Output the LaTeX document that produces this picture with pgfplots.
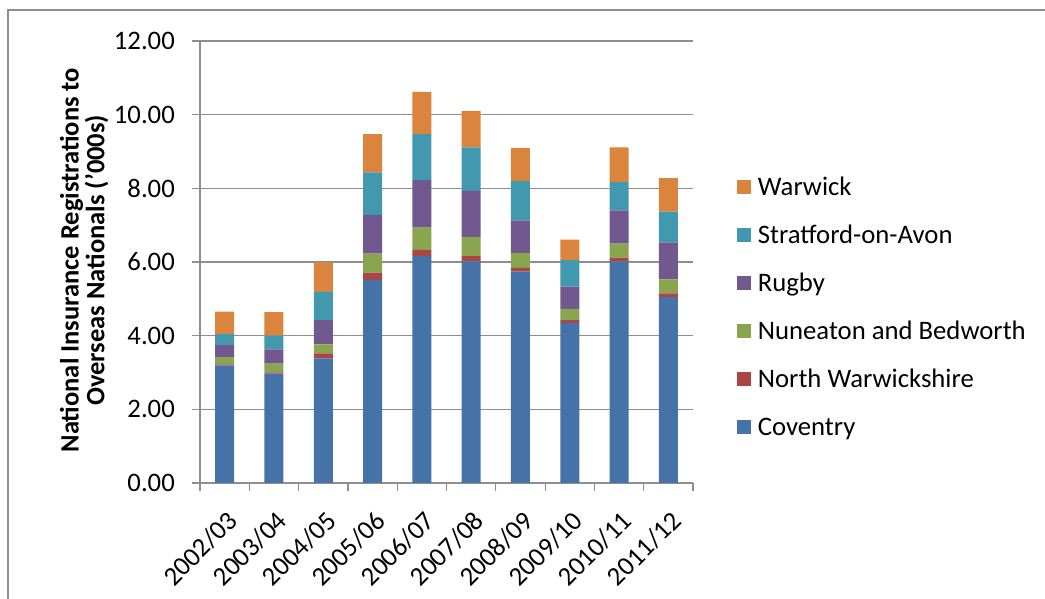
\documentclass[border=0pt]{standalone}
\usepackage{pgfplots}
\usepackage{pgfplotstable}
\pgfplotsset{compat=1.18}
\usepackage{fontspec}
\setmainfont{Carlito}
\definecolor{cCov}{RGB}{69,114,167}
\definecolor{cNW}{RGB}{170,70,67}
\definecolor{cNun}{RGB}{137,165,78}
\definecolor{cRug}{RGB}{113,88,143}
\definecolor{cStr}{RGB}{65,152,175}
\definecolor{cWar}{RGB}{219,132,61}
\definecolor{gridc}{RGB}{142,142,142}
\pgfplotstableread{
x cov nw nun rug str war
0 3.19 0.03 0.20 0.32 0.30 0.61
1 2.97 0.03 0.24 0.39 0.37 0.64
2 3.38 0.14 0.24 0.66 0.77 0.80
3 5.51 0.20 0.52 1.05 1.15 1.04
4 6.16 0.17 0.60 1.29 1.25 1.15
5 6.02 0.14 0.52 1.25 1.18 0.99
6 5.74 0.10 0.41 0.88 1.07 0.90
7 4.35 0.07 0.31 0.60 0.72 0.56
8 6.02 0.10 0.38 0.90 0.77 0.94
9 5.05 0.10 0.38 1.00 0.84 0.91
}\data
\pgfplotsset{sqlegend/.style={legend image code/.code={\fill[##1] (0bp,-7bp) rectangle (14bp,7bp);}}}
\begin{document}
\begin{tikzpicture}[x=1bp,y=1bp]
\useasboundingbox (0,0) rectangle (1045,599);
\draw[gridc, line width=1.5bp] (8,0) -- (8,589) -- (1045,589);
\begin{axis}[
  at={(200bp,116bp)}, anchor=south west,
  scale only axis, width=493bp, height=442bp,
  ybar stacked, bar width=19bp,
  xmin=-0.5, xmax=9.5, ymin=0, ymax=12,
  enlargelimits=false,
  axis x line*=bottom, axis y line*=left,
  axis line style={-, draw=gridc, line width=1.2bp},
  xtick={0,...,9},
  xticklabels={2002/03,2003/04,2004/05,2005/06,2006/07,2007/08,2008/09,2009/10,2010/11,2011/12},
  minor xtick={-0.5,0.5,...,9.5},
  every major x tick/.style={draw=none},
  every minor x tick/.style={draw=gridc, line width=1.2bp},
  ytick={0,2,...,12},
  major tick length=8bp, minor tick length=8bp,
  tick align=outside,
  every major y tick/.style={draw=gridc, line width=1.2bp},
  ymajorgrids, grid style={draw=gridc, line width=1.2bp},
  /pgf/number format/fixed, /pgf/number format/fixed zerofill,
  /pgf/number format/precision=2, /pgf/number format/assume math mode=true,
  yticklabel style={font=\fontsize{26.8}{26.8}\selectfont, anchor=east, inner sep=0pt, xshift=-17bp},
  xticklabel style={font=\fontsize{26.8}{26.8}\selectfont, rotate=45, anchor=north east, inner sep=0pt, xshift=-12bp, yshift=-13.7bp},
  ylabel={National Insurance Registrations to\\Overseas Nationals ('000s)},
  ylabel style={at={(axis description cs:-0.235,0.504)}, anchor=center, align=center, font=\bfseries\fontsize{26.6}{26}\selectfont},
  reverse legend,
  legend cell align=left,
  legend style={draw=none, fill=none, inner sep=0pt, outer sep=0pt,
    at={(axis description cs:1.089,0.6986)}, anchor=north west,
    row sep=23bp, column sep=7bp,
    font=\fontsize{26.8}{26.8}\selectfont,
    nodes={inner sep=0pt, text height=21bp, text depth=4bp}},
]
\addplot[fill=cCov, draw=none, sqlegend] table[x=x, y=cov] {\data};
\addplot[fill=cNW, draw=none, sqlegend] table[x=x, y=nw] {\data};
\addplot[fill=cNun, draw=none, sqlegend] table[x=x, y=nun] {\data};
\addplot[fill=cRug, draw=none, sqlegend] table[x=x, y=rug] {\data};
\addplot[fill=cStr, draw=none, sqlegend] table[x=x, y=str] {\data};
\addplot[fill=cWar, draw=none, sqlegend] table[x=x, y=war] {\data};
\legend{Coventry,North Warwickshire,Nuneaton and Bedworth,Rugby,Stratford-on-Avon,Warwick}
\end{axis}
\end{tikzpicture}
\end{document}
